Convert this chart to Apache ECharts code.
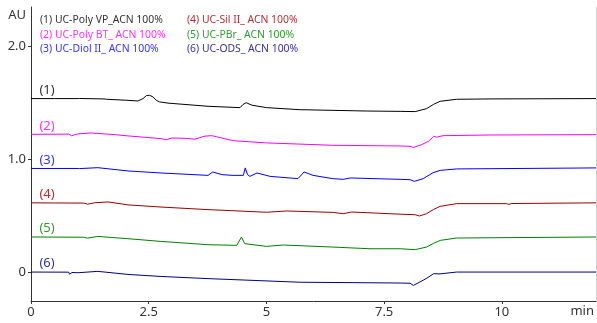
<!DOCTYPE html>
<html>
<head>
<meta charset="utf-8">
<script src="https://cdn.jsdelivr.net/npm/echarts@6/dist/echarts.min.js"></script>
<style>
  html, body { margin: 0; padding: 0; background: #fff; }
  #chart { width: 597px; height: 323px; }
</style>
</head>
<body>
<div id="chart"></div>
<script>
// Chromatogram baselines, [time (min), absorbance (AU)]
const trace1 = [[0,1.540],[0.5,1.540],[0.98,1.540],[1.0,1.531],[1.03,1.541],[1.55,1.537],[1.57,1.545],[1.6,1.534],[2.0,1.526],[2.27,1.519],[2.38,1.540],[2.45,1.566],[2.52,1.569],[2.59,1.555],[2.66,1.525],[2.73,1.511],[2.91,1.500],[3.76,1.472],[4.44,1.460],[4.5,1.487],[4.57,1.504],[4.69,1.482],[5.0,1.460],[5.71,1.442],[7.13,1.430],[7.84,1.427],[8.16,1.425],[8.19,1.413],[8.40,1.451],[8.55,1.489],[8.69,1.516],[9.04,1.534],[9.75,1.537],[12,1.540]];
const trace2 = [[0,1.224],[0.8,1.226],[0.84,1.224],[0.86,1.212],[0.9,1.222],[1.0,1.228],[1.27,1.236],[1.7,1.224],[2.06,1.210],[2.41,1.198],[2.76,1.186],[2.87,1.176],[3.0,1.192],[3.3,1.188],[3.48,1.181],[3.69,1.208],[3.84,1.212],[4.29,1.168],[5.0,1.148],[6.41,1.127],[7.84,1.121],[8.05,1.118],[8.12,1.108],[8.30,1.133],[8.45,1.165],[8.55,1.206],[8.62,1.199],[8.75,1.212],[9.75,1.218],[12,1.221]];
const trace3 = [[0,0.922],[0.98,0.922],[1.0,0.914],[1.03,0.921],[1.42,0.929],[2.06,0.900],[2.76,0.882],[3.76,0.861],[3.86,0.891],[4.06,0.867],[4.29,0.861],[4.51,0.861],[4.55,0.927],[4.6,0.867],[4.65,0.852],[4.80,0.882],[5.08,0.852],[5.67,0.832],[5.80,0.891],[5.99,0.861],[6.41,0.832],[6.63,0.826],[6.78,0.838],[7.84,0.826],[8.05,0.823],[8.14,0.808],[8.33,0.832],[8.54,0.885],[8.69,0.905],[9.04,0.918],[12,0.927]];
const trace4 = [[0,0.618],[0.5,0.617],[1.12,0.616],[1.14,0.602],[1.2,0.606],[1.35,0.619],[1.64,0.626],[2.06,0.600],[2.76,0.581],[3.76,0.558],[5.0,0.535],[5.43,0.546],[6.41,0.534],[6.63,0.522],[6.81,0.537],[7.84,0.518],[8.16,0.513],[8.25,0.502],[8.40,0.522],[8.55,0.560],[8.69,0.587],[9.04,0.611],[10.1,0.611],[10.15,0.604],[10.2,0.612],[12,0.618]];
const trace5 = [[0,0.316],[1.12,0.314],[1.14,0.301],[1.2,0.306],[1.42,0.321],[2.06,0.301],[2.76,0.277],[3.76,0.248],[4.37,0.242],[4.47,0.316],[4.54,0.257],[5.0,0.233],[5.36,0.245],[6.41,0.227],[7.2,0.212],[7.84,0.212],[8.16,0.204],[8.40,0.227],[8.55,0.260],[8.69,0.286],[9.04,0.307],[12,0.316]];
const trace6 = [[0,0.006],[0.8,0.005],[0.82,-0.013],[0.87,0.002],[1.0,0.0],[1.42,0.012],[2.06,-0.015],[2.76,-0.033],[3.76,-0.052],[5.71,-0.084],[7.84,-0.091],[8.05,-0.093],[8.12,-0.112],[8.26,-0.082],[8.40,-0.050],[8.55,-0.009],[8.69,-0.010],[9.04,0.006],[12,0.006]];

const seriesNames = [
  '(1) UC-Poly VP_ACN 100%',
  '(2) UC-Poly BT_ ACN 100%',
  '(3) UC-Diol II_ ACN 100%',
  '(4) UC-Sil II_ ACN 100%',
  '(5) UC-PBr_ ACN 100%',
  '(6) UC-ODS_ ACN 100%'
];
const traceTags = ['(1)', '(2)', '(3)', '(4)', '(5)', '(6)'];
const lineColors = ['#000000', '#ff00ff', '#0000ff', '#990000', '#008000', '#000080'];
const textColors = ['#333333', '#ff33ff', '#3333ff', '#aa3333', '#339933', '#333399'];

const xTicks = [0, 2.5, 5, 7.5, 10];
const yTicks = [0, 1, 2];
const tagTime = 0.34;

const traces = [trace1, trace2, trace3, trace4, trace5, trace6];
const font = '"Noto Sans", "DejaVu Sans", sans-serif';

const chart = echarts.init(document.getElementById('chart'), null, { renderer: 'canvas' });

const series = traces.map((data, i) => ({
  name: seriesNames[i],
  type: 'line',
  data: data,
  showSymbol: false,
  symbol: 'none',
  color: lineColors[i],
  lineStyle: { width: 1, color: lineColors[i] },
  animation: false,
  silent: true,
  markPoint: {
    symbol: 'circle',
    symbolSize: 0,
    silent: true,
    animation: false,
    label: {
      show: true,
      position: 'top',
      distance: 2,
      formatter: traceTags[i],
      color: textColors[i],
      fontSize: 13,
      fontFamily: font
    },
    data: [{ coord: [tagTime, data[0][1]] }]
  }
}));

const legendBase = {
  orient: 'vertical',
  top: 15,
  icon: 'none',
  itemWidth: 0,
  itemHeight: 11,
  itemGap: 4,
  selectedMode: false,
  padding: 0,
  textStyle: { fontSize: 10.4, fontFamily: font }
};

chart.setOption({
  backgroundColor: '#ffffff',
  animation: false,
  grid: { left: 31, right: 1, top: 7, bottom: 22 },
  legend: [
    Object.assign({}, legendBase, {
      left: 35,
      data: seriesNames.slice(0, 3).map((n, i) => ({ name: n, textStyle: { color: textColors[i] } }))
    }),
    Object.assign({}, legendBase, {
      left: 182,
      data: seriesNames.slice(3).map((n, i) => ({ name: n, textStyle: { color: textColors[i + 3] } }))
    })
  ],
  xAxis: {
    type: 'value',
    min: 0,
    max: 12,
    name: 'min',
    nameLocation: 'end',
    nameGap: -2,
    nameTextStyle: { align: 'right', verticalAlign: 'top', padding: [4, 0, 0, 0], fontSize: 13, color: '#333', fontFamily: font },
    axisLine: { show: true, onZero: false, lineStyle: { color: '#333', width: 1 } },
    axisTick: { show: true, length: 3, customValues: xTicks, lineStyle: { color: '#333' } },
    axisLabel: { customValues: xTicks, fontSize: 13, color: '#333', margin: 5, fontFamily: font },
    splitLine: { show: false }
  },
  yAxis: [{
    type: 'value',
    min: -0.25,
    max: 2.35,
    name: 'AU',
    nameLocation: 'end',
    nameGap: -8,
    nameTextStyle: { align: 'right', verticalAlign: 'middle', padding: [0, 5, 0, 0], fontSize: 13, color: '#333', fontFamily: font },
    axisLine: { show: true, onZero: false, lineStyle: { color: '#333', width: 1 } },
    axisTick: { show: true, length: 3, customValues: yTicks, lineStyle: { color: '#333' } },
    axisLabel: {
      customValues: yTicks,
      fontSize: 13,
      color: '#333',
      margin: 5,
      fontFamily: font,
      formatter: v => (v === 0 ? '0' : v.toFixed(1))
    },
    splitLine: { show: false }
  }, {
    type: 'value',
    position: 'right',
    min: -0.25,
    max: 2.35,
    axisLine: { show: true, onZero: false, lineStyle: { color: '#d0d0d0', width: 1 } },
    axisTick: { show: false },
    axisLabel: { show: false },
    splitLine: { show: false }
  }],
  series: series
});
</script>
</body>
</html>
